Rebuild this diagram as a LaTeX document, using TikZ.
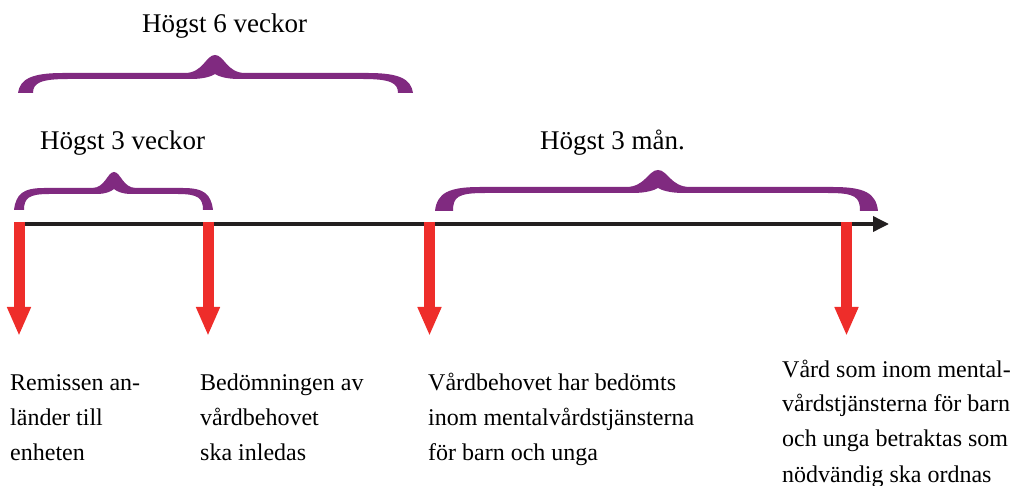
\documentclass[tikz,border=0pt]{standalone}
\usepackage{fontspec}
\setmainfont{Liberation Serif}
\usetikzlibrary{arrows.meta}
\definecolor{bracecol}{RGB}{128,42,128}
\definecolor{arrowred}{RGB}{238,45,42}
\definecolor{axiscol}{RGB}{35,31,32}
% #1 x left, #2 x right, #3 x tip, #4 y end bottom, #5 y flat top, #6 y tip top, #7 end width, #8 end curve length, #9 tip half width
\newcommand\drawbrace[9]{%
  \fill[bracecol] (#1,#4) .. controls (#1+2,#5+6) and (#1+#8*0.3,#5) .. (#1+#8,#5)
    -- (#3-#9,#5) .. controls (#3-0.4*#9,#5) and (#3-0.3*#9,#6) .. (#3,#6)
    .. controls (#3+0.3*#9,#6) and (#3+0.4*#9,#5) .. (#3+#9,#5)
    -- (#2-#8,#5) .. controls (#2-#8*0.3,#5) and (#2-2,#5+6) .. (#2,#4)
    -- (#2-#7,#4) .. controls (#2-#7,#5+10) and (#2-#8*0.5,#5+6) .. (#2-#8-5,#5+6)
    -- (#3+0.8*#9,#5+6) .. controls (#3+0.35*#9,#5+6) and (#3+0.1*#9,#5+3) .. (#3,#5+1)
    .. controls (#3-0.1*#9,#5+3) and (#3-0.35*#9,#5+6) .. (#3-0.8*#9,#5+6)
    -- (#1+#8+5,#5+6) .. controls (#1+#8*0.5,#5+6) and (#1+#7,#5+10) .. (#1+#7,#4) -- cycle;}
\tikzset{
  axisline/.style={draw=axiscol, line width=3.5pt, -{Triangle[length=16pt,width=15pt]}},
  redarrow/.style={draw=arrowred, line width=11pt, -{Triangle[length=29pt,width=22pt]}},
  toplbl/.style={inner sep=0pt, anchor=base west, font=\fontsize{27}{32}\selectfont},
  botlbl/.style={inner sep=0pt, anchor=base west, font=\fontsize{24}{35}\selectfont},
  botlblr/.style={inner sep=0pt, anchor=base west, font=\fontsize{24}{35}\selectfont}
}
\begin{document}
\begin{tikzpicture}[x=1pt,y=-1pt]
\useasboundingbox (0,0) rectangle (1012,486);
% braces
\drawbrace{14}{213}{114}{210}{188}{172}{10}{30}{22}
\drawbrace{18}{413}{215}{93}{73}{55}{15}{45}{30}
\drawbrace{435}{878}{658}{211}{187}{170}{18}{45}{32}
% top labels
\node[toplbl] (h6) at (142,33) {Högst 6 veckor};
\node[toplbl] (h3v) at (40,150) {Högst 3 veckor};
\node[toplbl] (h3m) at (540,150) {Högst 3 mån.};
% timeline
\coordinate (ax0) at (18,224);
\coordinate (ax1) at (889,224);
\draw[axisline] (ax0) -- (ax1);
% red arrows
\coordinate (t1) at (19,222);   \coordinate (b1) at (19,336);
\coordinate (t2) at (208,222);  \coordinate (b2) at (208,336);
\coordinate (t3) at (429.5,222);\coordinate (b3) at (429.5,336);
\coordinate (t4) at (846.5,222);\coordinate (b4) at (846.5,336);
\draw[redarrow] (t1) -- (b1);
\draw[redarrow] (t2) -- (b2);
\draw[redarrow] (t3) -- (b3);
\draw[redarrow] (t4) -- (b4);
% bottom labels
\node[botlbl] (l1) at (10,390) {\begin{tabular}[t]{@{}l@{}}Remissen an-\\länder till\\enheten\end{tabular}};
\node[botlbl] (l2) at (200,390) {\begin{tabular}[t]{@{}l@{}}Bedömningen av\\vårdbehovet\\ska inledas\end{tabular}};
\node[botlbl] (l3) at (428,390) {\begin{tabular}[t]{@{}l@{}}Vårdbehovet har bedömts\\inom mentalvårdstjänsterna\\för barn och unga\end{tabular}};
\node[botlblr] (l4) at (782,377) {\begin{tabular}[t]{@{}l@{}}Vård som inom mental-\\vårdstjänsterna för barn\\och unga betraktas som\\nödvändig ska ordnas\end{tabular}};
\end{tikzpicture}
\end{document}
